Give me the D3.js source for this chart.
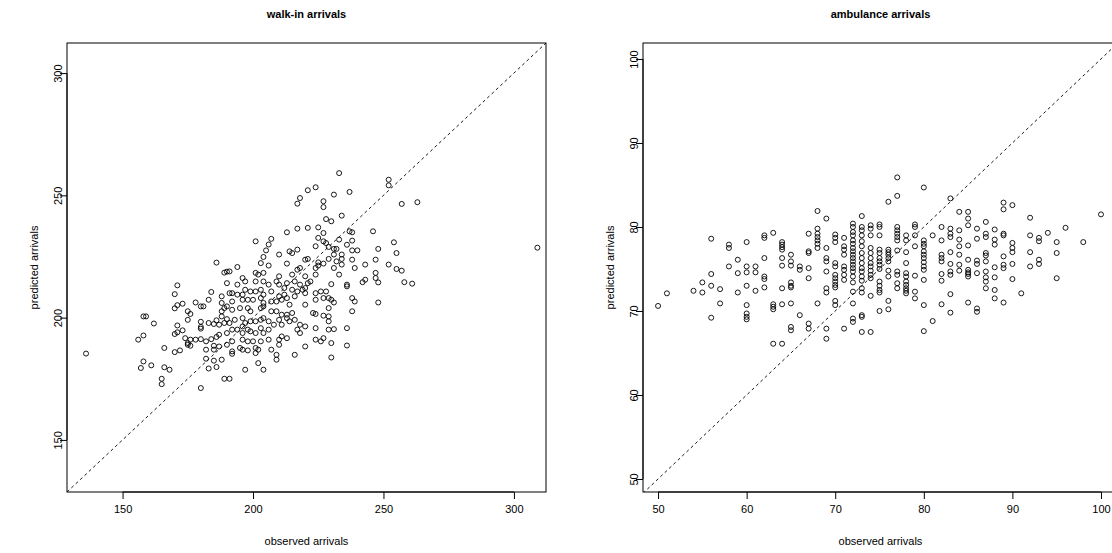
<!DOCTYPE html>
<html>
<head>
<meta charset="utf-8">
<script src="https://cdn.jsdelivr.net/npm/d3@7"></script>
<style>
  body { margin: 0; background: #fff; }
  text { font-family: "Liberation Sans", Arial, Helvetica, sans-serif; fill: #000; }
</style>
</head>
<body>
<svg id="chart" width="1112" height="553"></svg>
<script>
// Walk-in arrivals: [observed, predicted]
const walkinPoints = [
  [136,185.3],
  [171,213.2],[170,209.6],[184,210.5],[190,214.1],[188,208.7],[191,210.0],[183,207.3],[173,205.7],[171,205.1],[170,203.8],
  [178,206.2],[180,204.6],[181,204.6],[175,202.6],[176,201.5],[188,206.0],[189,203.9],[188,202.6],[190,204.6],[158,200.5],
  [159,200.5],[162,197.6],[175,199.1],[180,198.3],[171,196.8],[173,194.8],[171,194.0],[170,193.3],[180,196.2],[180,195.5],
  [183,197.8],[185,197.4],[186,198.9],[188,200.5],[187,197.1],[189,197.8],[190,199.4],[158,192.7],[156,191.0],[174,191.6],
  [176,191.0],[178,191.0],[180,191.2],[175,189.6],[175,188.9],[176,188.5],[182,190.3],[184,191.2],[186,192.1],[187,193.0],
  [190,193.7],[166,187.6],[170,185.9],[172,186.6],[182,186.9],[185,186.9],[185,188.5],[187,188.2],[190,188.9],[157,179.4],
  [158,182.1],[161,180.5],[166,179.7],[168,178.7],[182,183.2],[183,179.2],[185,182.4],[186,179.8],[188,182.8],
  [165,175.0],[165,172.8],[180,171.2],[189,175.0],
  [186,222.5],[189,218.4],[190,218.8],
  [224,253.3],[221,252.1],[218,248.9],[217,246.6],[227,247.6],[227,245.2],[228,240.3],[213,234.9],[217,236.4],[221,236.7],
  [225,236.9],[227,234.6],[225,232.6],[227,231.2],[224,229.2],[201,231.2],[207,232.2],[206,229.9],[205,227.5],[204,224.8],
  [203,222.3],[210,225.8],[215,226.4],[217,227.8],[214,227.1],[206,221.3],[213,222.1],[220,223.7],[221,224.0],[225,222.6],
  [227,222.1],[224,220.3],[225,221.3],[218,220.3],[217,219.6],[194,220.7],[191,218.9],[196,216.2],[201,218.3],[202,217.6],
  [204,218.3],[210,216.9],[215,217.6],[220,216.9],[224,217.6],
  [194,213.5],[197,214.8],[201,214.8],[204,214.8],[206,213.5],[210,213.5],[209,214.8],[213,214.1],[216,214.8],[218,213.5],
  [221,214.1],[222,214.8],[220,212.1],[192,210.0],[194,209.4],[196,209.4],[197,211.4],[199,210.7],[201,210.7],[203,211.4],
  [204,209.4],[207,210.7],[210,208.7],[212,209.4],[212,212.1],[215,211.4],[217,210.7],[219,211.4],[220,210.0],[224,210.0],
  [226,210.7],[228,210.7],[192,206.6],[196,207.3],[198,207.3],[200,207.3],[203,208.0],[204,206.0],[207,206.6],[209,206.6],
  [211,207.3],[213,208.0],[214,205.3],[216,208.7],[220,205.3],[224,207.3],[227,208.0],[229,203.9],[192,203.2],[195,203.9],
  [198,203.9],[199,202.6],[203,203.9],[204,204.6],[207,202.6],[209,202.6],[211,201.2],[213,201.2],[213,199.8],[215,201.9],
  [223,201.9],[224,201.5],[227,200.8],[191,197.8],[193,199.1],[196,199.8],[197,197.8],[199,198.5],[201,198.5],
  [203,199.1],[204,199.8],[206,198.5],[210,199.1],[211,197.1],[214,198.5],[216,199.1],[218,197.1],[220,196.4],[224,195.7],
  [192,195.1],[194,195.1],[196,196.4],[196,193.7],[198,195.1],[199,194.4],[201,193.7],[203,195.7],[204,193.7],
  [206,195.1],[208,197.1],[217,195.1],[218,193.7],[192,190.3],[196,191.0],[198,190.3],[200,190.3],[203,190.3],[206,191.0],
  [210,191.0],[211,192.3],[213,191.6],[224,191.0],[226,190.3],[227,191.6],[192,186.2],[192,185.2],[195,187.6],
  [196,186.9],[198,186.6],[201,187.6],[202,186.9],[201,185.5],[207,186.9],[210,188.9],[209,184.8],[216,184.8],[220,188.2],
  [209,182.8],[202,181.4],[204,178.7],[197,178.7],[191,175.0],
  [233,259.1],[231,250.3],[237,251.4],[234,241.7],[230,239.4],[252,256.4],[252,254.1],[257,246.5],[263,247.2],[237,235.3],
  [238,234.9],[246,235.3],[233,231.9],[238,231.5],[254,230.8],[228,230.5],[229,228.9],[231,228.1],[232,228.1],[236,229.8],
  [238,227.5],[240,227.5],[248,228.1],[255,226.4],[231,225.8],[234,225.8],[234,224.0],[229,224.0],[238,223.7],[232,223.0],
  [234,221.7],[247,223.7],[243,221.7],[252,221.7],[255,219.9],[257,219.2],[239,220.3],[231,220.3],[233,217.6],[247,218.3],
  [247,216.2],[243,215.5],
  [230,213.7],[236,213.5],[236,212.8],[242,214.5],[248,214.4],[258,214.5],[261,213.9],[229,208.0],[230,207.3],
  [231,206.2],[238,208.0],[239,206.6],[248,206.2],[238,202.6],[229,200.5],[229,198.5],[229,195.1],[231,195.3],[236,195.7],
  [230,189.6],[236,188.6],[230,183.7],
  [309,228.6]
];

// Ambulance arrivals: [observed, predicted]
const ambulancePoints = [
  [56,78.6],[58,77.9],[58,77.5],[59,76.1],[60,78.2],[58,75.3],[60,75.3],[61,75.3],[62,79.0],[62,78.7],[63,79.3],[62,76.3],
  [64,78.2],[64,77.9],[64,77.6],[64,77.3],[64,76.3],[64,75.4],[65,76.7],[65,75.9],[65,75.4],[56,74.4],[59,74.5],[60,74.6],
  [61,74.6],
  [62,74.1],[62,73.8],[55,73.4],[56,73.0],[57,72.6],[54,72.4],[55,72.2],[59,72.2],[60,73.0],[61,72.4],[62,72.8],[64,72.7],
  [65,73.4],[65,73.0],[65,72.8],[51,72.1],[50,70.6],[57,70.9],[60,70.7],[63,70.8],[63,70.5],[63,70.2],[64,70.8],[65,70.9],
  [56,69.2],[60,69.7],[60,69.3],[60,69.0],[65,68.1],[65,67.7],[63,66.1],[64,66.1],
  [66,75.3],[66,74.9],
  [67,79.2],[67,77.1],[67,76.9],[67,75.1],
  [68,81.9],[68,79.8],[68,79.2],[68,78.8],[68,78.4],[68,78.0],[68,77.5],
  [69,81.0],[69,77.5],[69,76.3],[69,75.9],
  [70,79.1],[70,78.7],[70,78.2],[70,75.7],[70,75.3],
  [71,78.7],[71,77.7],[71,77.3],[71,76.7],[71,75.3],[71,74.9],
  [72,80.4],[72,80.0],[72,79.4],[72,79.0],[72,78.4],[72,78.0],[72,77.5],[72,77.1],[72,76.7],[72,76.3],[72,75.9],[72,75.5],
  [72,75.1],[72,74.7],
  [73,81.3],[73,80.0],[73,79.6],[73,79.0],[73,78.3],[73,77.7],[73,76.9],[73,76.3],[73,75.7],[73,75.1],[73,74.7],
  [74,80.2],[74,79.8],[74,79.0],[74,77.5],[74,76.9],[74,76.3],[74,75.7],[74,75.3],[74,74.8],
  [75,80.3],[75,80.0],[75,79.0],[75,77.3],[75,76.9],[75,76.3],[75,75.9],[75,75.5],[75,75.0],
  [76,83.0],[76,77.3],[76,77.0],[76,76.7],[76,76.3],[76,75.9],[76,74.8],
  [77,85.9],[77,83.7],[77,80.0],[77,79.6],[77,79.2],[77,78.8],[77,78.4],[77,77.2],[77,74.7],
  [78,79.0],[78,78.4],[78,77.0],[78,75.7],[78,74.5],
  [79,80.3],[79,80.0],[79,79.0],[79,77.7],
  [80,84.7],[80,78.4],[80,78.0],[80,77.7],[80,77.1],[80,76.7],[80,76.3],[80,75.8],[80,75.3],[80,74.9],
  [81,79.0],
  [82,80.0],[82,78.4],[82,76.7],[82,76.3],[82,75.9],[82,74.4],
  [66,69.5],[67,73.9],[67,68.5],[67,67.9],[68,70.9],[69,74.7],[69,72.7],[69,72.2],[69,67.9],[69,66.7],[70,74.3],[70,73.9],
  [70,73.5],[70,73.1],[70,72.8],[70,71.2],[70,70.7],[71,74.3],[71,73.7],[71,67.9],[72,74.1],[72,73.4],[72,72.3],
  [72,70.9],[72,69.1],[72,68.7],[73,74.1],[73,73.6],[73,72.7],[73,72.2],[73,69.5],[73,69.3],[73,67.5],[74,74.3],
  [74,73.9],[74,71.8],[74,67.5],[75,73.5],[75,73.0],[75,72.5],[75,72.2],[75,70.0],[76,74.1],[76,71.2],[76,70.2],
  [77,74.3],[77,73.3],[77,72.7],[78,74.1],[78,73.5],[78,73.1],[78,72.7],[78,72.4],[78,72.1],[79,74.2],[79,72.3],
  [79,71.5],[80,73.7],[80,70.7],[80,67.6],[81,68.8],[82,73.6],[82,70.8],
  [83,83.4],[84,81.8],[85,81.8],[85,81.0],[85,80.2],[89,82.9],[89,82.1],[90,82.6],[92,81.1],[100,81.5],[83,79.8],[83,79.2],
  [83,78.8],[84,79.6],[86,79.8],[87,80.6],[88,79.7],[87,79.2],[87,78.8],[86,78.6],[89,79.2],[89,79.0],[92,79.0],[93,78.7],
  [93,78.3],[94,79.3],[96,79.9],[84,78.5],[84,77.7],[85,77.8],[88,78.5],[88,77.9],[90,78.1],[90,77.5],[90,77.0],[95,78.2],
  [98,78.2],[83,77.0],[84,76.7],[85,76.1],[86,75.6],[86,76.0],[87,76.9],[87,76.6],[87,75.9],[89,76.5],[90,75.6],[92,77.0],
  [92,75.3],[93,76.1],[93,75.6],[95,76.9],[83,75.6],[83,74.7],[84,75.5],[84,74.8],[85,74.9],[85,74.6],[87,74.7],[88,75.2],
  [89,75.5],[89,75.1],
  [83,74.3],[85,74.4],[85,74.1],[86,74.5],[87,74.0],[87,73.5],[87,72.7],[88,74.0],[88,72.5],[88,71.5],[89,71.0],[90,73.8],
  [91,72.1],[95,73.9],[83,72.0],[85,71.0],[86,70.3],[86,69.9],[83,69.8]
];

const walkinTicks = [150, 200, 250, 300];
const ambulanceTicks = [50, 60, 70, 80, 90, 100];
const walkinLimits = { x: [128.7, 312.3], y: [128.7, 312.3] };
const ambulanceLimits = { x: [48.3, 101.92], y: [48.45, 101.9] };

const svg = d3.select("#chart");
svg.append("rect").attr("width", 1112).attr("height", 553).attr("fill", "#fff");

function drawPanel(cfg) {
  const { left, right, top, bottom } = cfg.box;
  const x = d3.scaleLinear().domain(cfg.limits.x).range([left, right]);
  const y = d3.scaleLinear().domain(cfg.limits.y).range([bottom, top]);
  const g = svg.append("g");

  const clipId = "clip-" + cfg.id;
  svg.append("clipPath").attr("id", clipId).append("rect")
    .attr("x", left).attr("y", top).attr("width", right - left).attr("height", bottom - top);

  // y = x reference line
  const lo = Math.min(cfg.limits.x[0], cfg.limits.y[0]);
  const hi = Math.max(cfg.limits.x[1], cfg.limits.y[1]);
  g.append("line")
    .attr("clip-path", `url(#${clipId})`)
    .attr("x1", x(lo)).attr("y1", y(lo))
    .attr("x2", x(hi)).attr("y2", y(hi))
    .attr("stroke", "#000").attr("stroke-width", 0.9)
    .attr("stroke-dasharray", "3,3");

  // points
  g.selectAll("circle").data(cfg.points).enter().append("circle")
    .attr("cx", d => x(d[0])).attr("cy", d => y(d[1]))
    .attr("r", 2.5)
    .attr("fill", "none").attr("stroke", "#000").attr("stroke-width", 0.9);

  // axes
  const xAxis = d3.axisBottom(x).tickValues(cfg.ticks).tickSize(7).tickPadding(4).tickFormat(d3.format("d"));
  const yAxis = d3.axisLeft(y).tickValues(cfg.ticks).tickSize(7).tickPadding(4).tickFormat(d3.format("d"));
  const gx = g.append("g").attr("transform", `translate(0,${bottom})`).call(xAxis);
  const gy = g.append("g").attr("transform", `translate(${left},0)`).call(yAxis);
  [gx, gy].forEach(a => {
    a.select(".domain").remove();
    a.selectAll("line").attr("stroke", "#000");
    a.selectAll("text").attr("font-size", 11).attr("fill", "#000")
      .attr("font-family", '"Liberation Sans", Arial, sans-serif');
  });
  // axis lines spanning the tick range
  g.append("line").attr("x1", x(cfg.ticks[0])).attr("x2", x(cfg.ticks[cfg.ticks.length - 1]))
    .attr("y1", bottom).attr("y2", bottom).attr("stroke", "#000");
  g.append("line").attr("y1", y(cfg.ticks[0])).attr("y2", y(cfg.ticks[cfg.ticks.length - 1]))
    .attr("x1", left).attr("x2", left).attr("stroke", "#000");

  gx.selectAll("text").attr("dy", null).attr("y", 21);
  gy.selectAll("text")
    .attr("x", null).attr("dy", null).attr("y", 0)
    .attr("text-anchor", "middle")
    .attr("transform", "translate(-5,0) rotate(-90)");

  // frame
  g.append("rect").attr("x", left).attr("y", top)
    .attr("width", right - left).attr("height", bottom - top)
    .attr("fill", "none").attr("stroke", "#000").attr("stroke-width", 1);

  const cx = (left + right) / 2;
  g.append("text").attr("x", cx).attr("y", 18).attr("text-anchor", "middle")
    .attr("font-size", 11).attr("font-weight", "bold").text(cfg.title);
  g.append("text").attr("x", cx).attr("y", 545).attr("text-anchor", "middle")
    .attr("font-size", 11).text("observed arrivals");
  g.append("text")
    .attr("transform", `translate(${left - 29},${(top + bottom) / 2}) rotate(-90)`)
    .attr("text-anchor", "middle").attr("font-size", 11).text("predicted arrivals");
}

drawPanel({
  id: "walkin",
  box: { left: 67, right: 546, top: 43, bottom: 492 },
  limits: walkinLimits, ticks: walkinTicks, points: walkinPoints,
  title: "walk-in arrivals"
});
drawPanel({
  id: "ambulance",
  box: { left: 643, right: 1118, top: 43, bottom: 492 },
  limits: ambulanceLimits, ticks: ambulanceTicks, points: ambulancePoints,
  title: "ambulance arrivals"
});
</script>
</body>
</html>
